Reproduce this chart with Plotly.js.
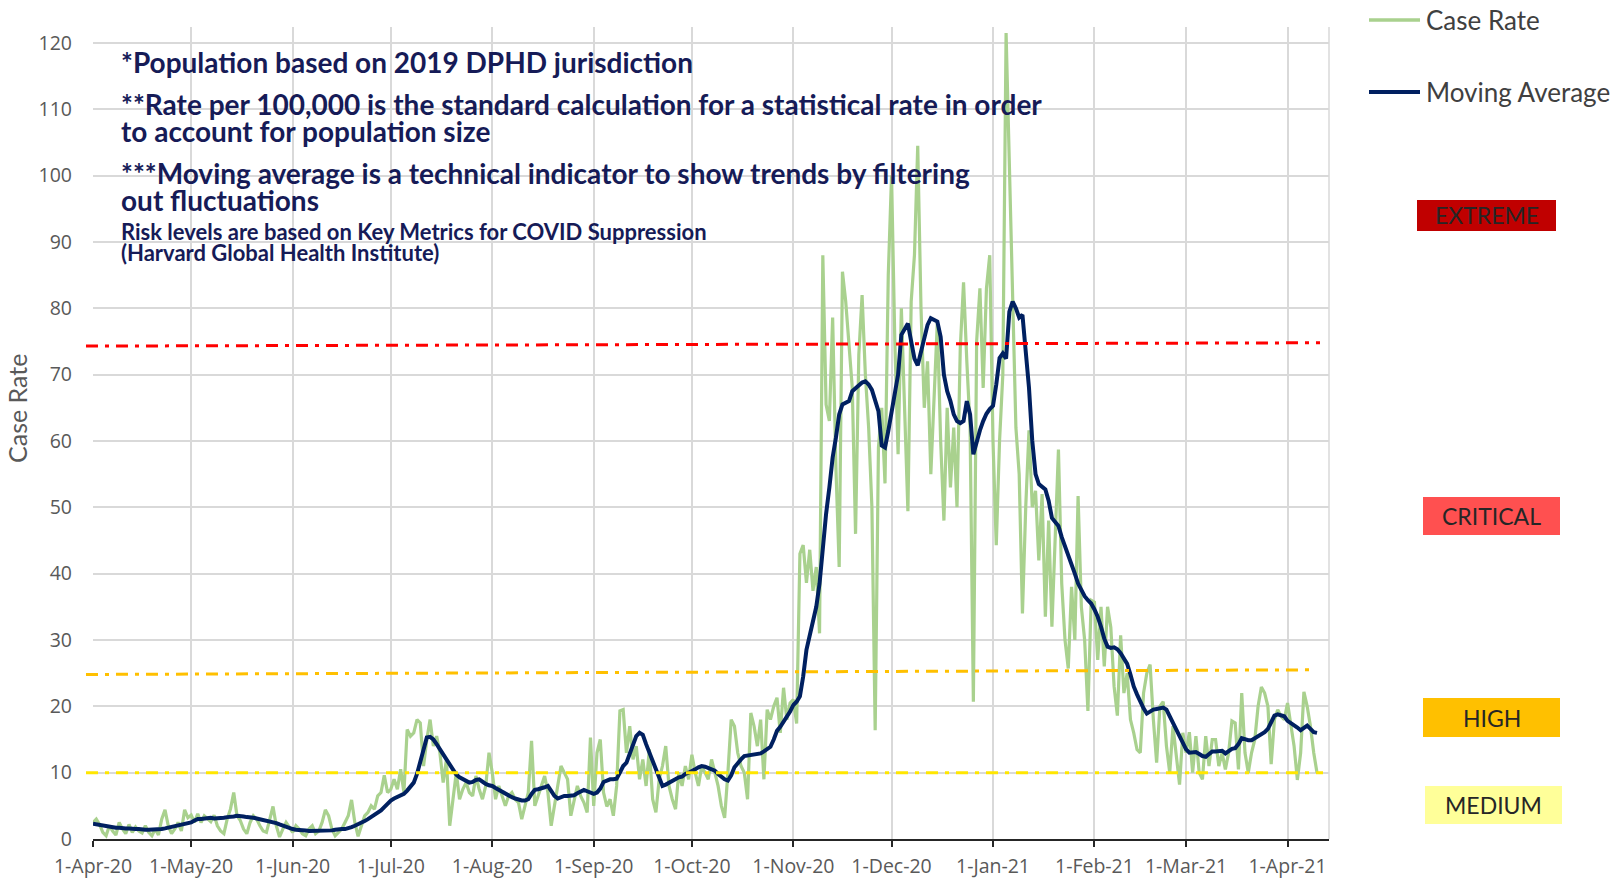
<!DOCTYPE html>
<html><head><meta charset="utf-8">
<script src="https://cdn.plot.ly/plotly-3.0.1.min.js"></script>
<style>html,body{margin:0;padding:0;background:#fff;}#chart{width:1615px;height:882px;}</style>
</head><body><div id="chart"></div>
<script>
// ---- Daily case rate per 100,000 (green) ----
const caseRateApr20 = [2.5,3.0,2.2,1.0,0.5,2.0,1.2,0.6,2.5,1.5, 0.8,2.2,1.0,1.8,1.2,0.9,2.0,1.0,0.5,1.5, 0.6,3.0,4.4,2.0,0.8,1.5,2.5,1.2,4.4,3.2];
const caseRateMay20 = [3.6,2.5,3.8,2.5,3.5,3.0,2.6,3.6,2.0,1.2, 0.8,3.0,4.5,7.0,3.5,2.8,1.5,0.8,2.5,3.5, 3.0,2.0,1.2,1.0,3.0,4.9,2.0,0.3,1.5,2.5, 1.8];
const caseRateJun20 = [1.0,2.0,1.5,0.8,0.5,1.5,2.0,0.8,1.2,2.5, 4.4,3.5,1.5,0.5,1.0,1.5,2.5,3.5,5.9,2.5, 0.4,2.0,3.5,4.0,5.0,4.5,6.5,7.0,9.6,7.0];
const caseRateJul20 = [7.5,9.0,7.5,10.5,7.0,16.5,15.5,16.0,18.0,17.5, 11.0,15.0,18.0,14.0,15.5,13.0,8.5,12.0,2.0,6.0, 10.0,6.0,7.5,8.5,7.0,6.5,9.5,7.5,6.0,8.0, 13.0];
const caseRateAug20 = [10.0,6.0,8.0,6.5,5.0,6.5,7.0,6.0,5.5,3.0, 5.0,7.0,14.8,5.0,6.5,8.0,9.5,7.0,2.0,5.0, 8.0,11.0,10.0,9.0,3.5,6.0,8.0,6.5,5.5,4.0, 15.3];
const caseRateSep20 = [5.0,13.0,15.0,7.0,4.9,6.0,3.5,8.0,19.3,19.5, 13.0,17.0,12.0,14.0,9.0,12.0,8.0,13.5,6.0,4.0, 9.0,11.0,14.0,8.0,6.0,4.5,10.0,8.0,11.0,9.0];
const caseRateOct20 = [12.7,10.0,8.0,11.0,10.0,9.0,12.0,10.0,8.0,5.0, 3.2,10.0,18.0,17.0,13.0,11.0,10.0,6.0,19.0,17.0, 14.0,18.0,9.0,19.5,18.0,20.0,21.3,16.0,22.8,18.0, 20.5];
const caseRateNov20 = [21.0,17.4,43.0,44.3,38.6,43.6,37.4,41.0,31.0,88.0, 65.5,63.0,78.6,56.0,41.0,85.5,81.0,74.0,68.0,46.0, 73.0,82.0,70.0,62.0,50.0,16.4,59.0,65.0,53.6,85.0];
const caseRateDec20 = [100.0,75.0,58.0,80.0,66.0,49.4,81.0,88.0,104.5,80.0, 65.0,72.0,55.0,68.0,78.0,60.0,48.0,65.0,53.0,62.0, 50.0,74.0,83.9,72.0,62.0,20.7,75.0,83.0,68.0,83.0, 88.0];
const caseRateJan21 = [60.0,44.3,60.0,70.0,121.5,100.0,80.0,62.0,55.0,34.0, 50.0,61.6,50.0,52.5,42.0,52.0,33.5,48.0,32.0,45.0, 58.7,38.5,30.0,25.7,38.0,30.0,51.7,35.0,30.0,19.3, 36.0];
const caseRateFeb21 = [35.7,27.0,35.0,26.0,35.0,31.9,23.0,18.6,30.7,22.0, 25.0,18.0,16.0,13.5,13.0,22.0,25.0,26.3,18.0,11.5, 20.0,20.7,14.0,10.0,17.0,12.0,8.2,16.0];
const caseRateMar21 = [13.0,16.1,10.0,15.5,10.0,9.0,15.5,11.0,15.0,15.0, 11.0,13.0,10.5,13.0,17.8,17.5,10.5,22.0,13.0,10.0, 13.0,15.0,20.0,22.9,22.0,20.0,11.3,18.0,19.5,18.5, 18.0];
const caseRateApr21 = [20.5,17.0,14.0,8.9,13.0,22.2,20.0,17.0,13.0,10.0];

// ---- Moving average (navy) ----
const movingAvgApr20 = [2.3,2.2,2.1,2.0,1.9,1.8,1.8,1.7,1.7,1.6, 1.6,1.6,1.5,1.5,1.5,1.4,1.4,1.4,1.4,1.4, 1.5,1.5,1.6,1.7,1.8,1.9,2.0,2.1,2.2,2.3];
const movingAvgMay20 = [2.5,2.8,3.0,3.0,3.1,3.2,3.2,3.1,3.1,3.2, 3.2,3.3,3.3,3.4,3.5,3.5,3.4,3.3,3.3,3.2, 3.1,3.0,2.9,2.7,2.6,2.5,2.4,2.2,2.0,1.8, 1.7];
const movingAvgJun20 = [1.5,1.4,1.4,1.3,1.3,1.2,1.2,1.2,1.2,1.2, 1.3,1.3,1.3,1.4,1.5,1.5,1.5,1.6,1.8,2.0, 2.2,2.4,2.7,3.0,3.3,3.6,3.9,4.3,4.8,5.4];
const movingAvgJul20 = [5.8,6.1,6.3,6.5,6.8,7.3,7.9,8.5,9.8,11.5, 13.5,15.3,15.4,15.0,14.3,13.5,12.7,12.0,11.2,10.4, 9.7,9.3,9.0,8.7,8.5,8.6,8.9,9.0,8.6,8.3, 8.1];
const movingAvgAug20 = [8.0,7.7,7.4,7.1,6.8,6.5,6.3,6.1,5.9,5.8, 5.8,6.0,6.8,7.4,7.5,7.6,7.8,8.0,7.3,6.5, 6.1,6.3,6.5,6.5,6.6,6.6,6.9,7.2,7.4,7.2, 7.0];
const movingAvgSep20 = [6.8,7.0,7.6,8.6,8.8,9.0,9.0,9.1,10.0,11.0, 11.5,12.8,14.3,15.5,16.0,15.7,14.3,13.0,11.5,10.2, 9.0,8.0,8.2,8.5,8.8,9.1,9.3,9.4,9.8,10.0];
const movingAvgOct20 = [10.2,10.5,10.8,11.0,10.9,10.7,10.5,10.3,9.8,9.3, 9.0,8.8,9.6,10.8,11.5,12.0,12.5,12.6,12.7,12.7, 12.8,12.9,13.2,13.6,13.9,15.0,16.3,16.9,17.6,18.3, 19.2];
const movingAvgNov20 = [20.2,20.7,21.5,24.5,28.5,30.8,33.0,35.0,38.5,44.0, 49.0,53.0,57.5,60.5,64.0,65.5,65.8,66.0,67.5,68.0, 68.3,68.8,69.0,68.5,67.7,66.0,64.5,59.3,59.0,61.5];
const movingAvgDec20 = [64.3,67.0,70.0,76.0,77.0,77.7,75.0,72.4,71.4,73.5, 76.0,77.5,78.5,78.3,78.0,75.7,70.0,67.5,66.0,64.0, 63.0,62.7,63.0,66.0,64.0,58.0,60.0,61.6,63.0,64.1, 64.8];
const movingAvgJan21 = [65.3,68.5,72.5,73.2,72.4,79.5,81.0,80.0,78.6,79.0, 74.0,68.0,60.0,55.0,53.5,53.0,52.7,51.0,48.4,47.8, 47.2,45.5,44.2,43.0,41.5,40.0,38.5,37.5,36.6,36.0, 35.5];
const movingAvgFeb21 = [34.6,33.5,32.0,30.2,29.0,28.8,28.9,28.6,28.0,27.3, 26.4,24.8,23.0,21.8,20.6,19.7,18.9,19.2,19.5,19.6, 19.7,19.8,19.5,18.5,17.4,16.5,15.7,14.6];
const movingAvgMar21 = [13.5,13.0,13.0,13.1,12.8,12.5,12.4,12.8,13.2,13.2, 13.2,13.3,12.9,13.3,13.6,13.7,14.3,15.2,15.0,14.9, 14.9,15.2,15.5,15.7,16.1,16.6,17.5,18.6,18.8,18.7, 18.5];
const movingAvgApr21 = [17.8,17.5,17.1,16.8,16.4,16.8,17.1,16.6,16.1,16.0];

// ---- Axis / category labels ----
const monthTickDates = ['2020-04-01','2020-05-01','2020-06-01','2020-07-01','2020-08-01','2020-09-01','2020-10-01','2020-11-01','2020-12-01','2021-01-01','2021-02-01','2021-03-01','2021-04-01'];
const monthTickLabels = ['1-Apr-20','1-May-20','1-Jun-20','1-Jul-20','1-Aug-20','1-Sep-20','1-Oct-20','1-Nov-20','1-Dec-20','1-Jan-21','1-Feb-21','1-Mar-21','1-Apr-21'];
const yTickValues = [0,10,20,30,40,50,60,70,80,90,100,110,120];
const seriesNames = ['Case Rate','Moving Average'];

// ---- Risk levels ----
const riskLabels = ['EXTREME','CRITICAL','HIGH','MEDIUM'];
const riskColors = ['#c00000','#ff5050','#ffc000','#ffff99'];
const thresholdStart = [74.3, 24.8, 10.0];
const thresholdEnd = [74.8, 25.5, 10.0];
const thresholdColors = ['#ff0000','#ffc000','#ffe600'];

const noteLines = [
  '*Population based on 2019 DPHD jurisdiction',
  '**Rate per 100,000 is the standard calculation for a statistical rate in order',
  'to account for population size',
  '***Moving average is a technical indicator to show trends by filtering',
  'out fluctuations',
  'Risk levels are based on Key Metrics for COVID Suppression',
  '(Harvard Global Health Institute)'
];

const caseRate = [].concat(caseRateApr20, caseRateMay20, caseRateJun20, caseRateJul20, caseRateAug20, caseRateSep20, caseRateOct20, caseRateNov20, caseRateDec20, caseRateJan21, caseRateFeb21, caseRateMar21, caseRateApr21);
const movingAverage = [].concat(movingAvgApr20, movingAvgMay20, movingAvgJun20, movingAvgJul20, movingAvgAug20, movingAvgSep20, movingAvgOct20, movingAvgNov20, movingAvgDec20, movingAvgJan21, movingAvgFeb21, movingAvgMar21, movingAvgApr21);
const startMs = Date.UTC(2020, 3, 1);
const dates = caseRate.map((_, i) => new Date(startMs + i * 86400000).toISOString().slice(0, 10));

// ---- geometry helpers (pixel -> paper) ----
const W = 1615, H = 882, ML = 93, MR = 286, MT = 27, MB = 43;
const PW = W - ML - MR, PH = H - MT - MB;
const px = v => (v - ML) / PW;
const py = v => (H - MB - v) / PH;

const traces = [
  {x: dates, y: caseRate, type: 'scatter', mode: 'lines', name: seriesNames[0],
   line: {color: '#a9d18e', width: 3.2}, hoverinfo: 'x+y'},
  {x: dates, y: movingAverage, type: 'scatter', mode: 'lines', name: seriesNames[1],
   line: {color: '#002060', width: 4}, hoverinfo: 'x+y'}
];

const shapes = [];
const thrEnds = [1320, 1311, 1323];
thresholdStart.forEach((v, i) => {
  shapes.push({type: 'line', xref: 'paper', yref: 'y', x0: px(86), x1: px(thrEnds[i]), y0: v, y1: thresholdEnd[i],
    line: {color: thresholdColors[i], width: 3, dash: '12px,7px,4px,7px'}, layer: 'above'});
});
// right border gridline
shapes.push({type: 'line', xref: 'paper', yref: 'paper', x0: 1, x1: 1, y0: 0, y1: 1, line: {color: '#d9d9d9', width: 1.5}, layer: 'below'});
// legend samples
shapes.push({type: 'line', xref: 'paper', yref: 'paper', x0: px(1369), x1: px(1420), y0: py(20), y1: py(20), line: {color: '#a9d18e', width: 3.5}});
shapes.push({type: 'line', xref: 'paper', yref: 'paper', x0: px(1369), x1: px(1420), y0: py(92), y1: py(92), line: {color: '#002060', width: 4}});
// risk boxes
const boxes = [[1417, 200, 1556, 231], [1423, 497, 1560, 535], [1423, 698, 1560, 737], [1425, 786, 1562, 824]];
boxes.forEach((b, i) => {
  shapes.push({type: 'rect', xref: 'paper', yref: 'paper', x0: px(b[0]), x1: px(b[2]), y0: py(b[3]), y1: py(b[1]),
    fillcolor: riskColors[i], line: {width: 0}});
});

const annotations = [];
const navy = '#161b57';
const noteY = [62, 104, 131, 173, 200, 231, 252];
const noteSize = [28, 28, 28, 28, 28, 22, 22];
noteLines.forEach((t, i) => {
  annotations.push({xref: 'paper', yref: 'paper', x: px(119), y: py(noteY[i]), xanchor: 'left', yanchor: 'middle',
    text: '<b>' + t + '</b>', showarrow: false, font: {family: 'Lato', size: noteSize[i], color: navy}});
});
boxes.forEach((b, i) => {
  annotations.push({xref: 'paper', yref: 'paper', x: px((b[0] + b[2]) / 2), y: py((b[1] + b[3]) / 2), xanchor: 'center', yanchor: 'middle',
    text: riskLabels[i], showarrow: false, font: {family: 'Lato', size: 23, color: '#262626'}});
});
annotations.push({xref: 'paper', yref: 'paper', x: px(1424), y: py(20), xanchor: 'left', yanchor: 'middle', text: seriesNames[0], showarrow: false,
  font: {family: 'Lato', size: 26, color: '#404040'}});
annotations.push({xref: 'paper', yref: 'paper', x: px(1424), y: py(92), xanchor: 'left', yanchor: 'middle', text: seriesNames[1], showarrow: false,
  font: {family: 'Lato', size: 26, color: '#404040'}});
annotations.push({xref: 'paper', yref: 'paper', x: px(17), y: py(409), xanchor: 'center', yanchor: 'middle', text: 'Case Rate', textangle: -90, showarrow: false,
  font: {family: 'Lato', size: 25, color: '#595959'}});

const tickFont = {family: 'Open Sans', size: 19.5, color: '#595959'};
const layout = {
  width: W, height: H,
  margin: {l: ML, r: MR, t: MT, b: MB, pad: 0},
  paper_bgcolor: '#ffffff', plot_bgcolor: '#ffffff',
  showlegend: false,
  font: {family: 'Open Sans', color: '#595959'},
  xaxis: {
    type: 'date', range: ['2020-04-01', '2021-04-13 16:00'],
    tickmode: 'array', tickvals: monthTickDates, ticktext: monthTickLabels,
    showgrid: true, gridcolor: '#d9d9d9', gridwidth: 1.5,
    showline: true, linecolor: '#262626', linewidth: 2,
    ticks: 'outside', ticklen: 6, tickwidth: 2, tickcolor: '#262626',
    tickfont: tickFont,
    ticklabelstandoff: 3,
    zeroline: false
  },
  yaxis: {
    range: [0, 122.4], tickmode: 'array', tickvals: yTickValues,
    showgrid: true, gridcolor: '#d9d9d9', gridwidth: 1.5,
    showline: false, zeroline: false, ticks: '',
    tickfont: tickFont,
    ticklabelstandoff: 20
  },
  shapes: shapes,
  annotations: annotations
};

Plotly.newPlot('chart', traces, layout, {displayModeBar: false, responsive: false});
</script>
</body></html>
